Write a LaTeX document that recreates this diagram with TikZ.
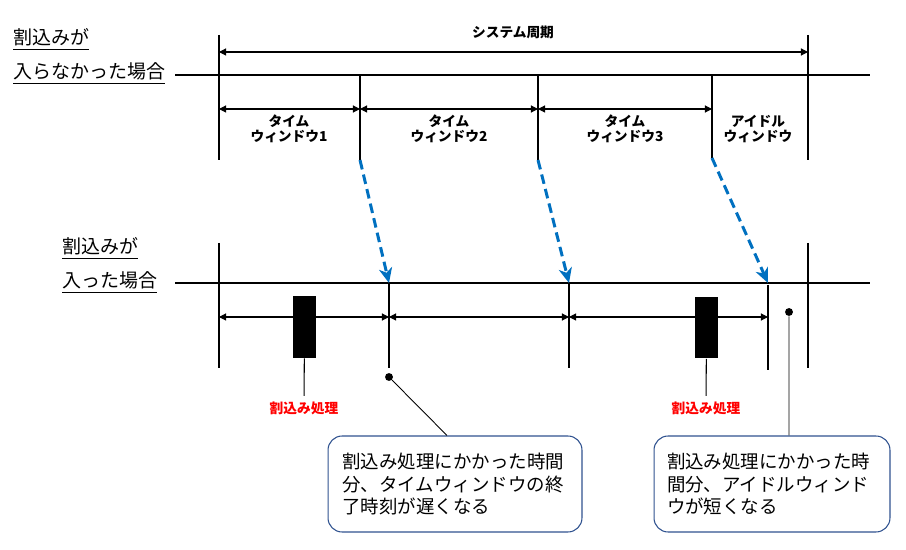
\documentclass[tikz,border=0pt]{standalone}
\usepackage{fontspec}
\setmainfont{Noto Sans CJK JP}
\usetikzlibrary{arrows.meta}
\definecolor{arrowblue}{RGB}{0,112,192}
\definecolor{boxline}{RGB}{47,82,143}
\begin{document}
\begin{tikzpicture}[x=0.02cm,y=-0.02cm,line join=round,
	axis/.style={line width=1.6pt},
	dim/.style={line width=0.6pt,{Triangle[length=4pt,width=4pt]}-{Triangle[length=4pt,width=4pt]}},
	delay/.style={arrowblue,line width=1.7pt,dash pattern=on 5.5pt off 3pt,-{Stealth[length=8.5pt,width=7.5pt,inset=2.5pt]}},
	small/.style={font=\fontsize{7.8}{8.6}\selectfont\bfseries,align=center,inner sep=0pt},
	title/.style={anchor=base west,inner sep=0pt,font=\fontsize{10.8}{13}\selectfont},
	isr/.style={fill=black,minimum width=0.46cm,minimum height=1.24cm,inner sep=0pt},
	dot/.style={circle,fill=black,minimum size=4.5pt,inner sep=0pt},
	note/.style={draw=boxline,line width=0.6pt,rounded corners=8pt,align=left,minimum height=1.92cm,font=\fontsize{10.5}{12.8}\selectfont}]
	\useasboundingbox (0,0) rectangle (906,550);
	% 割込みが入らなかった場合
	\node[title] (n1) at (13,45) {\underline{割込みが}};
	\node[title] (n2) at (13,79) {\underline{入らなかった場合}};
	\draw[axis] (175,75) -- (870,75);
	\draw[axis] (219,35) -- (219,160) (808,35) -- (808,160);
	\draw[axis] (360,75) -- (360,160) coordinate (A1)
		(538,75) -- (538,160) coordinate (A2)
		(712,75) -- (712,158) coordinate (A3);
	\draw[dim] (219,52) -- (808,52);
	\node[small] (sys) at (513,32) {システム周期};
	\draw[dim] (219,109) -- (360,109);
	\draw[dim] (360,109) -- (538,109);
	\draw[dim] (538,109) -- (712,109);
	\node[small] (w1) at (289,129) {タイム\\ウィンドウ1};
	\node[small] (w2) at (449,129) {タイム\\ウィンドウ2};
	\node[small] (w3) at (625,129) {タイム\\ウィンドウ3};
	\node[small] (w4) at (758,129) {アイドル\\ウィンドウ};
	% 割込みが入った場合
	\node[title] (m1) at (62,254) {\underline{割込みが}};
	\node[title] (m2) at (62,288) {\underline{入った場合}};
	\draw[axis] (175,283) -- (870,283);
	\draw[axis] (219,243) -- (219,368) (808,243) -- (808,368);
	\draw[axis] (389,283) coordinate (B1) -- (389,368)
		(569,283) coordinate (B2) -- (569,368)
		(768,285) -- (768,370);
	\coordinate (B3) at (768,283);
	\draw[dim] (219,317) -- (389,317);
	\draw[dim] (389,317) -- (569,317);
	\draw[dim] (569,317) -- (768,317);
	\foreach \a/\b in {A1/B1,A2/B2,A3/B3}
		\draw[delay] (\a) -- (\b);
	% 割込み処理
	\node[isr] (r1) at (304.5,327) {};
	\node[isr] (r2) at (706.5,327.5) {};
	\node[small,red,inner ysep=3pt] (p1) at (304,408) {割込み処理};
	\node[small,red,inner ysep=3pt] (p2) at (706,408) {割込み処理};
	\draw[line width=0.6pt] (r1) -- (p1) (r2) -- (p2);
	% 吹き出し
	\node[note,text width=4.5cm,inner xsep=0.29cm] (c1) at (455,484) {割込み処理にかかった時間\\分、タイムウィンドウの終\\了時刻が遅くなる};
	\node[note,text width=4.2cm,inner xsep=0.26cm] (c2) at (772,484) {割込み処理にかかった時\\間分、アイドルウィンド\\ウが短くなる};
	\node[dot] (d1) at (389,377) {};
	\node[dot] (d2) at (789,312) {};
	\path (c1.north) ++(-8,0) coordinate (c1a);
	\draw[line width=0.5pt] (d1) -- (c1a) (d2) -- (d2 |- c2.north);
\end{tikzpicture}
\end{document}
